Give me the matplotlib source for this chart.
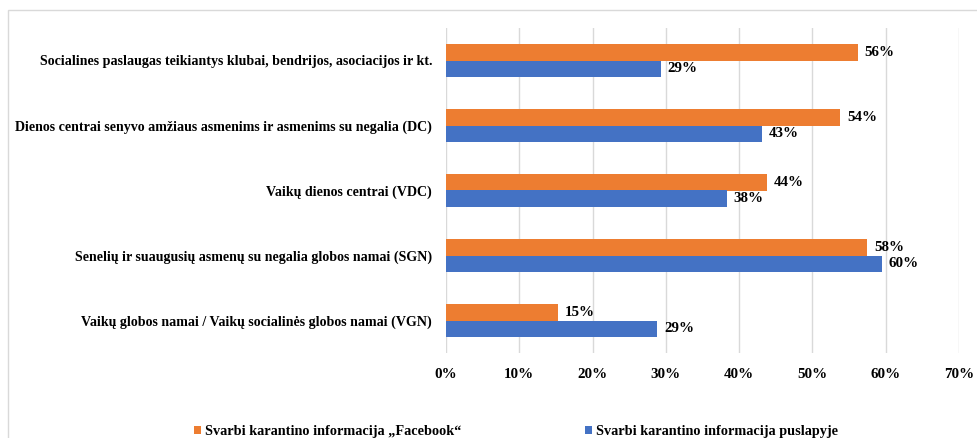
import matplotlib
matplotlib.use('Agg')
import numpy as np
import matplotlib.pyplot as plt
from matplotlib.patches import Rectangle

categories = [
    'Socialines paslaugas teikiantys klubai, bendrijos, asociacijos ir kt.',
    'Dienos centrai senyvo amžiaus asmenims ir asmenims su negalia (DC)',
    'Vaikų dienos centrai (VDC)',
    'Senelių ir suaugusių asmenų su negalia globos namai (SGN)',
    'Vaikų globos namai / Vaikų socialinės globos namai (VGN)',
]
facebook = [56.2, 53.8, 43.8, 57.5, 15.3]
facebook_labels = ['56%', '54%', '44%', '58%', '15%']
website = [29.3, 43.1, 38.3, 59.5, 28.8]
website_labels = ['29%', '43%', '38%', '60%', '29%']
series_names = ['Svarbi karantino informacija „Facebook“',
                'Svarbi karantino informacija puslapyje']
x_ticks = [0, 10, 20, 30, 40, 50, 60, 70]

ORANGE = '#ED7D31'
BLUE = '#4472C4'
GRID = '#D9D9D9'

plt.rcParams['font.family'] = ['Liberation Serif', 'DejaVu Serif']
plt.rcParams['font.weight'] = 'bold'

fig = plt.figure(figsize=(9.77, 4.38), dpi=100)
ax = fig.add_axes([446 / 977, 1 - 353 / 438, (959 - 446) / 977, (353 - 28) / 438])

y = np.arange(len(categories))
h = 0.254
bars_fb = ax.barh(y - h / 2, facebook, height=h, color=ORANGE, label=series_names[0], zorder=3)
bars_web = ax.barh(y + h / 2, website, height=h, color=BLUE, label=series_names[1], zorder=3)

ax.bar_label(bars_fb, labels=facebook_labels, padding=5, fontsize=10.8, fontweight='bold')
ax.bar_label(bars_web, labels=website_labels, padding=5, fontsize=10.8, fontweight='bold')

ax.set_ylim(len(categories) - 0.5, -0.5)
ax.set_yticks(y)
ax.set_yticklabels(categories, fontsize=10.05, fontweight='bold')
ax.set_xlim(0, 70)
ax.set_xticks(x_ticks)
ax.set_xticklabels([f'{t}%' for t in x_ticks], fontsize=10.8, fontweight='bold')
ax.tick_params(axis='both', length=0)
ax.tick_params(axis='y', pad=10)
ax.tick_params(axis='x', pad=11)
ax.grid(axis='x', color=GRID, linewidth=1, zorder=0)
for s in ax.spines.values():
    s.set_visible(False)

fig.legend(handles=[bars_fb, bars_web], labels=series_names, loc='center left',
           bbox_to_anchor=(194 / 977, 1 - 432 / 438), ncol=2, frameon=False,
           fontsize=10.3, handlelength=0.5, handleheight=0.5, handletextpad=0.3,
           columnspacing=8.6, borderaxespad=0, borderpad=0)

fig.patches.append(Rectangle((8 / 977, -0.1), 1.2, 1 - 10 / 438 + 0.1, transform=fig.transFigure,
                             fill=False, edgecolor=GRID, linewidth=1, zorder=-1))

fig.savefig('out.png', dpi=100)
